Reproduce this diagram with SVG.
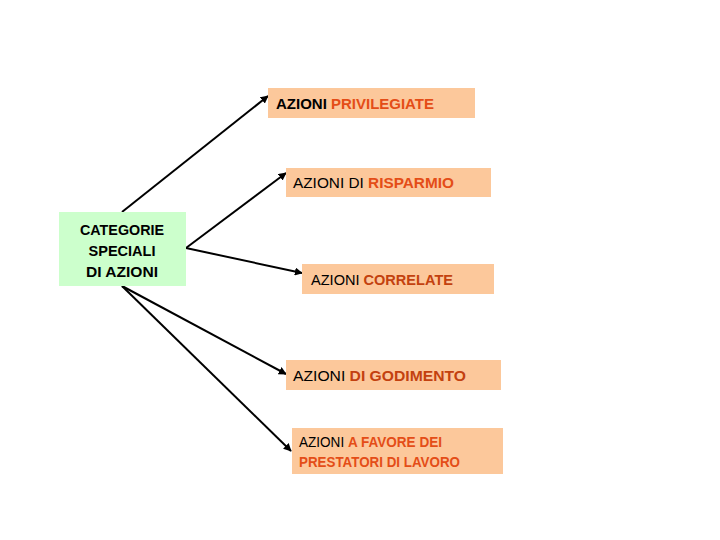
<svg xmlns="http://www.w3.org/2000/svg" width="720" height="540" viewBox="0 0 720 540">
<defs>
<marker id="ah" viewBox="0 0 10 10" refX="9" refY="5" markerWidth="4" markerHeight="4" orient="auto" markerUnits="strokeWidth">
<path d="M0,0 L10,5 L0,10 z" fill="#000"/>
</marker>
<style>
.box{fill:#fcc89b}
.green{fill:#ccffcc}
text{font-family:"Liberation Sans",Arial,sans-serif;font-size:15px;fill:#000}
.b{font-weight:bold}
.r{fill:#e44d17;font-weight:bold}
.d{fill:#c3410f;font-weight:bold}
.cat{font-weight:bold;font-size:15px;text-anchor:middle}
.ln{stroke:#000;stroke-width:2;fill:none;marker-end:url(#ah)}
</style>
</defs>
<rect width="720" height="540" fill="#fff"/>
<g id="connectors">
<line class="ln" x1="122" y1="212" x2="268" y2="96"/>
<line class="ln" x1="186" y1="248" x2="286" y2="173"/>
<line class="ln" x1="186" y1="248" x2="302" y2="273"/>
<line class="ln" x1="122" y1="286" x2="286" y2="374"/>
<line class="ln" x1="122" y1="286" x2="291" y2="451"/>
</g>
<g id="categorie">
<rect class="green" x="59" y="212" width="127" height="74"/>
<text class="cat" x="122" y="235" textLength="84" lengthAdjust="spacingAndGlyphs">CATEGORIE</text>
<text class="cat" x="122" y="256" textLength="67" lengthAdjust="spacingAndGlyphs">SPECIALI</text>
<text class="cat" x="122" y="277" textLength="72" lengthAdjust="spacingAndGlyphs">DI AZIONI</text>
</g>
<g id="privilegiate">
<rect class="box" x="268" y="88" width="207" height="30"/>
<text x="276" y="109" textLength="158" lengthAdjust="spacingAndGlyphs"><tspan class="b">AZIONI </tspan><tspan class="r">PRIVILEGIATE</tspan></text>
</g>
<g id="risparmio">
<rect class="box" x="286" y="168" width="205" height="29"/>
<text x="293" y="188" textLength="161" lengthAdjust="spacingAndGlyphs">AZIONI DI <tspan class="r">RISPARMIO</tspan></text>
</g>
<g id="correlate">
<rect class="box" x="302" y="264" width="192" height="30"/>
<text x="311" y="285" textLength="142" lengthAdjust="spacingAndGlyphs">AZIONI <tspan class="d">CORRELATE</tspan></text>
</g>
<g id="godimento">
<rect class="box" x="286" y="360" width="215" height="30"/>
<text x="293" y="381" textLength="173" lengthAdjust="spacingAndGlyphs">AZIONI <tspan class="d">DI GODIMENTO</tspan></text>
</g>
<g id="favore">
<rect class="box" x="292" y="428" width="211" height="46"/>
<text x="299" y="447" style="font-size:14px" textLength="143" lengthAdjust="spacingAndGlyphs">AZIONI <tspan class="r">A FAVORE DEI</tspan></text>
<text x="299" y="467" class="r" style="font-size:14px" textLength="161" lengthAdjust="spacingAndGlyphs">PRESTATORI DI LAVORO</text>
</g>
</svg>
